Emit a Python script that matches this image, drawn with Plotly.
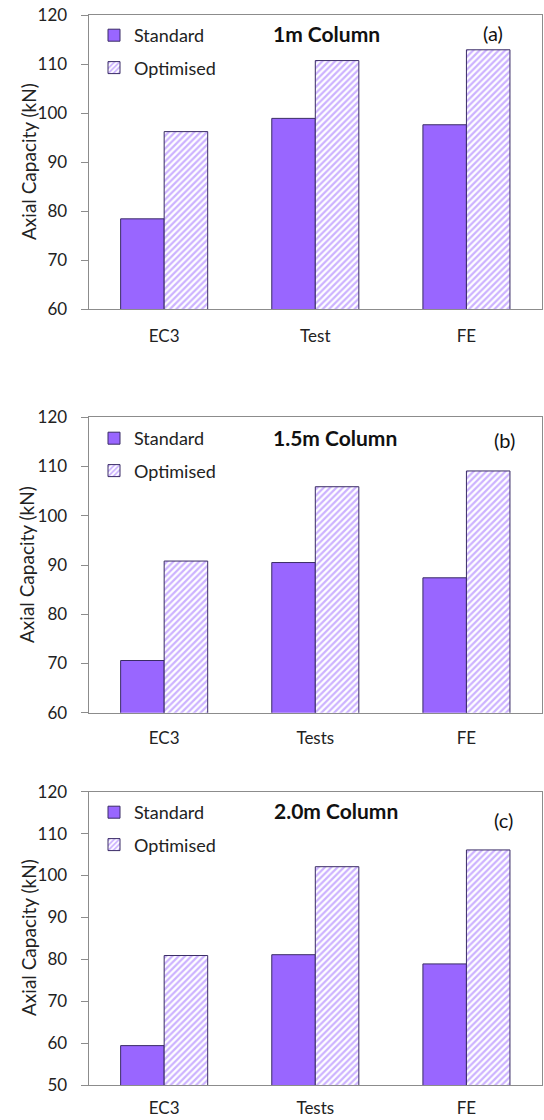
import plotly.graph_objects as go

categories_a = ["EC3", "Test", "FE"]
categories_bc = ["EC3", "Tests", "FE"]
standard_a = [78.4, 98.9, 97.6]
optimised_a = [96.2, 110.7, 112.9]
standard_b = [70.6, 90.5, 87.4]
optimised_b = [90.8, 105.9, 109.1]
standard_c = [59.4, 81.1, 78.9]
optimised_c = [80.9, 102.1, 106.1]
titles = ["1m Column", "1.5m Column", "2.0m Column"]
tags = ["(a)", "(b)", "(c)"]
yranges = [[60, 120], [60, 120], [50, 120]]

W, H = 544, 1120
PURPLE = "#9966FF"
EDGE = "#3a2c66"
FONT = "Lato"
TXT = "#222222"


def px(x):
    return x / W


def py(y):
    return 1 - y / H


panels = [
    dict(cats=categories_a, std=standard_a, opt=optimised_a, top=15, bot=309,
         title_xy=(326, 33), tag_xy=(493, 33), leg_y=35, axt=(28, 162), xso=12),
    dict(cats=categories_bc, std=standard_b, opt=optimised_b, top=417.3, bot=712.7,
         title_xy=(335, 437), tag_xy=(504, 440), leg_y=438, axt=(26, 565), xso=10),
    dict(cats=categories_bc, std=standard_c, opt=optimised_c, top=791.7, bot=1085,
         title_xy=(336, 810), tag_xy=(503, 820), leg_y=812, axt=(28, 938), xso=8),
]

fig = go.Figure()
x0, x1 = px(88.6), px(542)

for i, p in enumerate(panels):
    n = "" if i == 0 else str(i + 1)
    leg = "legend" + n
    fig.add_trace(go.Bar(
        x=p["cats"], y=p["std"], name="Standard",
        xaxis="x" + n, yaxis="y" + n, legend=leg, legendgroup=f"s{i}",
        marker=dict(color=PURPLE, line=dict(color=EDGE, width=1)),
    ))
    fig.add_trace(go.Bar(
        x=p["cats"], y=p["opt"], name="Optimised",
        xaxis="x" + n, yaxis="y" + n, legend=leg, legendgroup=f"o{i}",
        marker=dict(color="white", line=dict(color=EDGE, width=1),
                    pattern=dict(shape="/", fgcolor=PURPLE, bgcolor="white",
                                 size=4.5, solidity=0.5)),
    ))
    yd = [py(p["bot"]), py(p["top"])]
    fig.update_layout(**{
        "xaxis" + n: dict(domain=[x0, x1], anchor="y" + n, showline=True,
                          linecolor="#8c8c8c", linewidth=1, mirror=True,
                          ticks="", showgrid=False, ticklabelstandoff=p["xso"],
                          ticklabeloverflow="allow",
                          tickfont=dict(family=FONT, size=17, color=TXT),
                          fixedrange=True),
        "yaxis" + n: dict(domain=yd, anchor="x" + n, range=yranges[i], dtick=10,
                          showline=True, linecolor="#8c8c8c", linewidth=1,
                          mirror=True, ticks="outside", ticklen=7,
                          tickcolor="#8c8c8c", showgrid=False, zeroline=False,
                          tickfont=dict(family=FONT, size=17, color=TXT),
                          ticklabelstandoff=10, ticklabeloverflow="allow",
                          fixedrange=True),
        leg: dict(x=px(94), y=py(p["leg_y"] - 18), xanchor="left",
                  yanchor="top", bgcolor="rgba(0,0,0,0)", borderwidth=0,
                  font=dict(family=FONT, size=18, color=TXT),
                  itemwidth=30, tracegroupgap=6, traceorder="grouped"),
    })
    fig.add_annotation(x=px(p["title_xy"][0]), y=py(p["title_xy"][1]),
                       xref="paper", yref="paper", text="<b>" + titles[i] + "</b>",
                       xanchor="center", yanchor="middle",
                       showarrow=False, font=dict(family=FONT, size=21, color="#111111"))
    fig.add_annotation(x=px(p["tag_xy"][0]), y=py(p["tag_xy"][1]),
                       xref="paper", yref="paper", text=tags[i],
                       xanchor="center", yanchor="middle",
                       showarrow=False, font=dict(family=FONT, size=20, color="#111111"))
    fig.add_annotation(x=px(p["axt"][0]), y=py(p["axt"][1]),
                       xref="paper", yref="paper", text="Axial Capacity (kN)",
                       xanchor="center", yanchor="middle",
                       textangle=-90, showarrow=False,
                       font=dict(family=FONT, size=19, color=TXT))

fig.update_layout(
    width=W, height=H, margin=dict(l=0, r=0, t=0, b=0, autoexpand=False),
    paper_bgcolor="white", plot_bgcolor="white",
    barmode="group", bargap=0.424, bargroupgap=0,
    showlegend=True, hovermode=False,
)
fig.write_html("out.html", config={"displayModeBar": False, "staticPlot": False},
               post_script="document.body.style.margin='0';document.body.style.overflow='hidden';")
